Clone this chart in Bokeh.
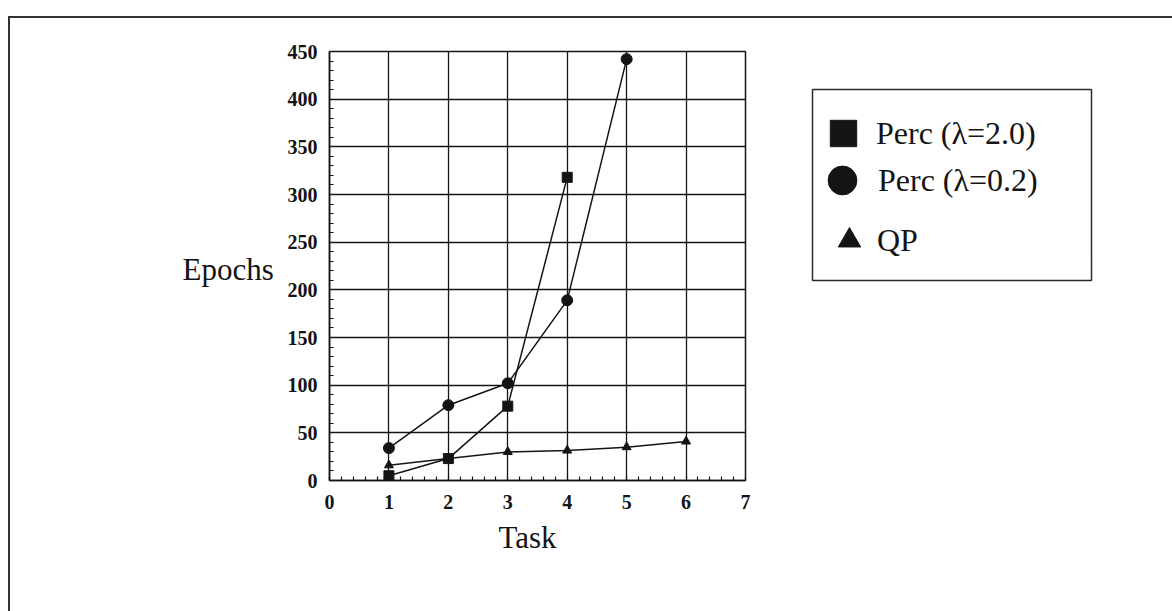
from bokeh.plotting import figure
from bokeh.models import (Legend, LegendItem, BoxAnnotation,
                          SingleIntervalTicker, Range1d)
from bokeh.layouts import row, column
from bokeh.core.properties import value
from bokeh.embed import file_html
from bokeh.resources import INLINE

# ---- data ----
task_sq = [1, 2, 3, 4]
epochs_sq = [5, 23, 78, 318]            # Perc (lambda=2.0)
task_ci = [1, 2, 3, 4, 5]
epochs_ci = [34, 79, 102, 189, 442]     # Perc (lambda=0.2)
task_tr = [1, 2, 3, 4, 5, 6]
epochs_tr = [16, 23, 30, 31.5, 35, 41]  # QP

label_sq = "Perc (\u03bb=2.0)"
label_ci = "Perc (\u03bb=0.2)"
label_tr = "QP"
x_title = "Task"
y_title = "Epochs"

INK = "#141414"
SERIF = "Liberation Serif"
H = 593  # height of content inside the outer frame


def blank(width, height, x0, x1, y0, y1):
    f = figure(width=width, height=height, output_backend="svg",
               toolbar_location=None, x_range=Range1d(x0, x1),
               y_range=Range1d(y1, y0), min_border=0,
               x_axis_location=None, y_axis_location=None)
    f.grid.visible = False
    f.outline_line_color = None
    f.background_fill_color = "white"
    f.border_fill_color = "white"
    return f


# ---- left strip: y title ----
left = blank(270, H, 10, 280, 18, 611)
left.text(x=[182], y=[268.5], text=[y_title], text_font=value(SERIF),
          text_font_size=value("31px"), text_color=INK,
          text_baseline="middle", text_align="left")

# ---- chart ----
p = figure(width=490, height=502, output_backend="svg", toolbar_location=None,
           x_range=Range1d(0, 7), y_range=Range1d(0, 450),
           min_border_left=49, min_border_right=25,
           min_border_top=33, min_border_bottom=40)
p.background_fill_color = "white"
p.border_fill_color = "white"
p.outline_line_color = INK
p.outline_line_width = 1.5

xt = SingleIntervalTicker(interval=1, num_minor_ticks=5)
yt = SingleIntervalTicker(interval=50, num_minor_ticks=5)
p.xaxis.ticker = xt
p.yaxis.ticker = yt
p.xgrid.ticker = xt
p.ygrid.ticker = yt
for g in (p.xgrid, p.ygrid):
    g.grid_line_color = INK
    g.grid_line_width = 1.3

for ax in (p.xaxis, p.yaxis):
    ax.axis_line_color = INK
    ax.axis_line_width = 1.5
    ax.major_tick_in = 0
    ax.major_tick_out = 0
    ax.minor_tick_in = 4
    ax.minor_tick_out = 0
    ax.minor_tick_line_color = INK
    ax.minor_tick_line_width = 1.2
    ax.major_label_text_font = SERIF
    ax.major_label_text_font_style = "bold"
    ax.major_label_text_font_size = "20px"
    ax.major_label_text_color = INK
p.yaxis.major_label_standoff = 12
p.xaxis.major_label_standoff = 14

p.line(task_sq, epochs_sq, line_color=INK, line_width=1.5)
p.line(task_ci, epochs_ci, line_color=INK, line_width=1.5)
p.line(task_tr, epochs_tr, line_color=INK, line_width=1.5)
p.scatter(task_sq, epochs_sq, marker="square", size=10, color=INK)
p.scatter(task_ci, epochs_ci, marker="circle", size=11, color=INK)
p.scatter(task_tr, epochs_tr, marker="triangle", size=9, color=INK)

# ---- strip below chart: x title ----
bottom = blank(490, H - 502, 280, 770, 520, 611)
bottom.text(x=[479], y=[537], text=[x_title], text_font=value(SERIF),
            text_font_size=value("31px"), text_color=INK,
            text_baseline="middle", text_align="left")

# ---- right strip: legend ----
right = blank(402, H, 770, 1172, 18, 611)
right.add_layout(BoxAnnotation(left=812, right=1091, top=89, bottom=280,
                               fill_alpha=0, line_color="#2a2a2a",
                               line_alpha=1, line_width=1.5))

# legend-only renderers (hidden; the legend draws their marker styles)
k_sq = right.scatter(task_sq, epochs_sq, marker="square", color=INK, visible=False)
k_ci = right.scatter(task_ci, epochs_ci, marker="circle", color=INK, visible=False)
k_tr = right.scatter(task_tr, epochs_tr, marker="triangle", color=INK, visible=False)


def add_legend(r, lab, G, vx, vy):
    lg = Legend(items=[LegendItem(label=value(lab), renderers=[r])],
                location=(vx, vy), glyph_width=G, glyph_height=G,
                label_standoff=0, padding=0, margin=0, spacing=0,
                border_line_alpha=0, background_fill_alpha=0,
                label_text_font=SERIF, label_text_font_size="32px",
                label_text_color=INK)
    right.add_layout(lg)


add_legend(k_sq, label_sq, 66, 40, 445)
add_legend(k_ci, label_ci, 72, 36, 395)
add_legend(k_tr, label_tr, 56, 51, 343)

layout = row(left, column(p, bottom), right, margin=(16, 0, 0, 8),
             styles={"border-top": "2px solid #333",
                     "border-left": "2px solid #333"})

open("out.html", "w").write(file_html(layout, INLINE))
